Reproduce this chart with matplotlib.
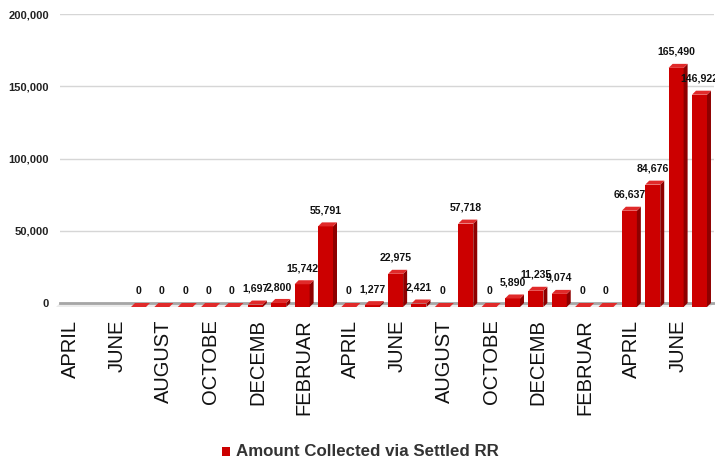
import numpy as np
import matplotlib
matplotlib.use("Agg")
import matplotlib.pyplot as plt
from matplotlib.patches import Polygon

plt.rcParams['font.family'] = ['Liberation Sans', 'DejaVu Sans']

# data (monthly, April to July two years later)
xlabels = ["APRIL", "", "JUNE", "", "AUGUST", "", "OCTOBE", "", "DECEMB", "", "FEBRUAR", "",
           "APRIL", "", "JUNE", "", "AUGUST", "", "OCTOBE", "", "DECEMB", "", "FEBRUAR", "",
           "APRIL", "", "JUNE", ""]
amounts = [None, None, None, 0, 0, 0, 0, 0, 1697, 2800, 15742, 55791,
           0, 1277, 22975, 2421, 0, 57718, 0, 5890, 11235, 9074, 0, 0,
           66637, 84676, 165490, 146922]
series_name = "Amount Collected via Settled RR"
yticks = [0, 50000, 100000, 150000, 200000]

W, H = 715, 461
fig = plt.figure(figsize=(W/100, H/100), dpi=100)
ax = fig.add_axes([60/W, 1-307/H, 654/W, 293/H])

# fake 3d depth, in pixels -> data units
ymax = 200000
px_per_y = 289.0/ymax
px_per_x = 23.375
ddy = 4/px_per_y
ddx = 4/px_per_x
w = 15/px_per_x

n = len(amounts)
ax.set_xlim(-0.53, n-1+0.45)
ax.set_ylim(-ddy, ymax)

front = "#cc0000"
top = "#e02a2a"
side = "#8e0000"

# floor
x0, x1 = -0.53, n-1+0.45
ax.add_patch(Polygon([(x0-ddx, -ddy), (x1-ddx, -ddy), (x1, 0), (x0, 0)],
                     closed=True, fc="#ececec", ec="none", zorder=1, clip_on=False))
ax.plot([x0, x1], [0, 0], color="#a6a6a6", lw=2, zorder=2, clip_on=False)

for i, v in enumerate(amounts):
	if v is None:
		continue
	xl = i - w/2
	xr = i + w/2
	if v > 0:
		ax.add_patch(Polygon([(xl-ddx, -ddy), (xr-ddx, -ddy), (xr-ddx, v-ddy), (xl-ddx, v-ddy)],
		                     closed=True, fc=front, ec="none", zorder=4))
		ax.add_patch(Polygon([(xr-ddx, -ddy), (xr, 0), (xr, v), (xr-ddx, v-ddy)],
		                     closed=True, fc=side, ec="none", zorder=4))
	ax.add_patch(Polygon([(xl-ddx, v-ddy), (xr-ddx, v-ddy), (xr, v), (xl, v)],
	                     closed=True, fc=top, ec="none", zorder=4))
	ax.annotate(f"{v:,}", xy=(i-ddx, v), xytext=(0, 5), textcoords="offset points",
	            ha="center", va="bottom", fontsize=7.6, fontweight="bold", color="#111111", zorder=6)

ax.set_yticks(yticks)
ax.set_yticklabels([f"{t:,}" for t in yticks], fontsize=8, fontweight="bold", color="#222222")
ax.yaxis.grid(True, color="#d6d6d6", lw=1)
ax.set_axisbelow(True)
ax.set_xticks(np.arange(n) - ddx/2)
ax.set_xticklabels(xlabels, rotation=90, fontsize=14.5, color="#111111")
ax.tick_params(axis="both", length=0)
ax.tick_params(axis="y", pad=8)
ax.tick_params(axis="x", pad=9)
for s in ax.spines.values():
	s.set_visible(False)

# legend at the bottom
fig.patches.append(plt.Rectangle((222/W, 1-456/H), 8/W, 9/H, transform=fig.transFigure,
                                 fc=front, ec="none"))
fig.text(236/W, 1-451/H, series_name, ha="left", va="center", fontsize=12.2,
         fontweight="bold", color="#333333")

fig.savefig("out.png", dpi=100)
